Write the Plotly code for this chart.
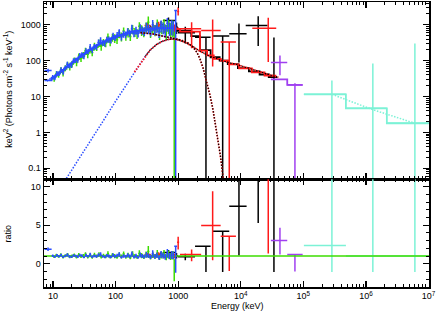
import numpy as np
import plotly.graph_objects as go

# ---------------- data ----------------
# NaI detector (blue): bin edges (keV), folded model per bin, data/model ratio, relative error
blue_edges = [7.3, 9.5, 10.3, 11.1, 12.0, 13.0, 14.0, 15.1, 16.3, 17.6, 19.0, 20.5, 22.1, 23.9, 25.8,
              27.8, 30.0, 32.4, 35.0, 37.8, 40.8, 44.0, 47.5, 51.3, 55.4, 59.8, 64.6, 69.7, 75.3, 81.3,
              87.8, 94.8, 102, 110, 119, 129, 139, 150, 162, 175, 189, 204, 220, 238, 257, 277, 299,
              323, 349, 377, 407, 440, 475, 513, 554, 598, 646, 698, 754, 814, 860]
blue_model = [28, 33, 36, 40, 45, 50, 55, 61, 68, 76,
              84, 93, 103, 114, 126, 139, 153, 168, 184, 201,
              219, 238, 258, 279, 300, 322, 344, 366, 389, 412,
              435, 458, 481, 503, 525, 547, 568, 589, 609, 628,
              646, 664, 681, 697, 712, 726, 739, 751, 762, 772,
              781, 789, 796, 801, 805, 808, 809, 808, 805, 800]
blue_ratio = [1.9, 1.05, 0.92, 1.1, 0.97, 1.12, 0.88, 1.03, 1.15, 0.95,
              0.9, 1.08, 1.0, 0.93, 1.12, 1.05, 0.85, 1.1, 0.98, 1.2,
              0.9, 1.04, 0.95, 1.15, 1.22, 0.97, 0.88, 1.06, 1.0, 0.91,
              1.13, 0.95, 1.08, 1.2, 0.86, 1.02, 0.94, 1.1, 0.98, 1.25,
              0.9, 1.05, 0.85, 1.15, 1.0, 0.92, 1.18, 1.05, 0.88, 1.3,
              0.95, 1.1, 0.82, 1.2, 1.05, 0.9, 1.35, 1.0, 1.15, 1.1]
blue_relerr = [0.12, 0.15, 0.14, 0.16, 0.15, 0.17, 0.16, 0.15, 0.18, 0.16,
               0.17, 0.15, 0.16, 0.18, 0.15, 0.17, 0.16, 0.19, 0.17, 0.2,
               0.18, 0.17, 0.19, 0.2, 0.22, 0.18, 0.2, 0.19, 0.21, 0.2,
               0.22, 0.19, 0.21, 0.24, 0.2, 0.22, 0.21, 0.24, 0.22, 0.27,
               0.23, 0.25, 0.24, 0.28, 0.26, 0.27, 0.3, 0.28, 0.3, 0.34,
               0.31, 0.33, 0.35, 0.37, 0.36, 0.4, 0.42, 0.4, 0.45, 0.45]
# last blue bin (error bar reaching below zero)
blue_last = dict(E=[912], lo=[865], hi=[960], F=[2490], Fhi=[2490], Flo=[1e-4],
                 R=[2.28], Rhi=[2.28], Rlo=[-1.16])

# NaI detector (green)
green_edges = [10.0, 10.9, 11.8, 12.8, 13.9, 15.1, 16.4, 17.8, 19.3, 21.0, 22.8, 24.8, 26.9, 29.2,
               31.7, 34.4, 37.4, 40.6, 44.1, 47.9, 52.0, 56.5, 61.4, 66.7, 72.4, 78.6, 85.4, 92.8,
               101, 110, 119, 129, 140, 152, 165, 179, 195, 212, 230, 250, 271, 294, 320, 347, 377,
               410, 445, 483, 525, 570, 619, 672, 730, 793, 850]
green_model = [35, 39, 43, 48, 53, 59, 66, 73, 81, 91,
               101, 112, 124, 137, 151, 167, 184, 201, 219, 238,
               258, 279, 302, 325, 349, 373, 398, 424, 449, 474,
               499, 523, 547, 570, 592, 613, 634, 654, 673, 691,
               707, 722, 736, 749, 760, 770, 779, 787, 793, 797,
               800, 801, 800, 797]
green_ratio = [0.9, 1.1, 0.95, 1.15, 0.85, 1.05, 1.2, 0.92, 1.0, 1.12,
               0.88, 1.18, 0.95, 1.05, 1.25, 0.9, 1.1, 0.84, 1.15, 1.0,
               1.22, 0.9, 1.08, 0.95, 1.3, 0.88, 1.12, 1.0, 0.85, 1.2,
               0.95, 1.28, 0.9, 1.1, 0.8, 1.25, 1.0, 0.88, 1.35, 1.05,
               0.9, 1.2, 1.6, 0.85, 1.15, 0.95, 1.3, 0.8, 1.1, 1.25,
               0.85, 1.2, 0.95, 1.1]
green_relerr = [0.18, 0.17, 0.19, 0.18, 0.2, 0.19, 0.18, 0.21, 0.2, 0.19,
                0.21, 0.2, 0.22, 0.21, 0.2, 0.23, 0.22, 0.21, 0.24, 0.22,
                0.23, 0.25, 0.22, 0.24, 0.26, 0.23, 0.25, 0.27, 0.24, 0.26,
                0.28, 0.25, 0.27, 0.3, 0.26, 0.29, 0.28, 0.31, 0.3, 0.33,
                0.3, 0.34, 0.45, 0.33, 0.36, 0.35, 0.38, 0.4, 0.38, 0.42,
                0.45, 0.43, 0.48, 0.5]
green_last = dict(E=[865], lo=[850], hi=[880], F=[621], Fhi=[621], Flo=[1e-4],
                  R=[0.56], Rhi=[0.56], Rlo=[-2.25])

# BGO detector (black)
black_E   = [360, 458, 534, 700, 940, 1300, 2780, 5140, 9360, 19000, 33900]
black_lo  = [310, 420, 500, 570, 900, 990, 1860, 3556, 6550, 12000, 33900]
black_hi  = [420, 500, 570, 900, 990, 1860, 3300, 6550, 12400, 26800, 33900]
black_F   = [760, 900, 1000, 1310, 850, 600, 445, 485, 560, 952, 442]
black_Fhi = [950, 1100, 1250, 1600, 1150, 880, 445, 485, 1080, 1726, 442]
black_Flo = [570, 700, 760, 1050, 550, 300, 1e-4, 1e-4, 89, 254, 1e-4]
black_R   = [0.95, 1.1, 1.25, 1.45, 1.05, 0.9, 2.28, 4.22, 7.45, 20, 11.6]
black_Rhi = [1.2, 1.35, 1.55, 1.8, 1.4, 1.3, 2.28, 4.22, 15, 40, 30]
black_Rlo = [0.7, 0.85, 0.95, 1.15, 0.7, 0.45, -1.08, -1.08, 1.08, 5.3, -1.08]
black_step_edges = [300, 380, 480, 600, 760, 990, 1620, 2230, 3300, 4600, 6200, 9000, 13500,
                    20000, 28000, 38000]
black_step_vals = [800, 810, 812, 806, 790, 680, 480, 195, 124, 100, 80, 62, 50, 41, 35]

# BGO detector (red)
red_E   = [322, 398, 488, 597, 727, 876, 1000, 1640, 3556, 6550, 27500]
red_lo  = [290, 360, 440, 540, 660, 800, 965, 1070, 2330, 4775, 15300]
red_hi  = [360, 440, 540, 660, 800, 960, 1035, 2330, 4775, 8370, 36900]
red_F   = [950, 845, 1015, 770, 925, 790, 2330, 770, 692, 330, 801]
red_Fhi = [1140, 1025, 1215, 960, 1135, 1020, 3070, 1180, 1400, 330, 1560]
red_Flo = [760, 665, 815, 580, 715, 560, 1807, 220, 69, 1e-4, 91]
red_R   = [1.2, 1.05, 1.25, 0.95, 1.15, 1.0, 2.8, 1.2, 4.96, 3.57, 20]
red_Rhi = [1.44, 1.27, 1.5, 1.18, 1.41, 1.29, 3.5, 1.85, 9.4, 3.57, 40]
red_Rlo = [0.96, 0.83, 1.0, 0.72, 0.89, 0.71, 1.85, 0.34, 0.47, -0.95, 1.34]
red_step_edges = [290, 360, 440, 540, 660, 800, 960, 1070, 2230, 2900, 3700, 4800, 6500, 9400,
                  15000, 24000, 37000]
red_step_vals = [790, 805, 812, 812, 805, 792, 760, 640, 190, 140, 112, 100, 79, 61, 47, 38]

# LAT low energy (purple)
purple_E   = [42300, 73400]
purple_lo  = [30300, 55300]
purple_hi  = [55300, 97500]
purple_F   = [88, 21]
purple_Fhi = [140, 23.5]
purple_Flo = [39, 1e-4]
purple_R   = [3.02, 1.2]
purple_Rhi = [4.66, 1.2]
purple_Rlo = [1.2, -1.0]
purple_step_edges = [30300, 55300, 97500]
purple_step_vals = [30, 21]

# LAT (cyan)
cyan_E   = [2.86e5, 1.29e6, 6.06e6]
cyan_lo  = [1.02e5, 4.79e5, 2.16e6]
cyan_hi  = [4.79e5, 2.16e6, 1.01e7]
cyan_F   = [11.5, 4.7, 1.8]
cyan_Fhi = [28, 83, 300]
cyan_Flo = [1e-4, 1e-4, 1e-4]
cyan_R   = [2.37, 1.0, 1.0]
cyan_Rhi = [30, 30, 30]
cyan_Rlo = [-1.08, -1.08, -1.08]
cyan_step_edges = [1.02e5, 4.79e5, 2.16e6, 1.01e7]
cyan_step_vals = [11.5, 4.7, 1.8]
cyan_comp_E = [2.86e5, 1.29e6, 6.06e6]
cyan_comp_F = [11.5, 4.3, 1.8]

# model components (dotted)
pl_E = [8, 16.6, 30, 60, 100, 150, 200, 300, 360, 450, 550, 700, 850, 1000, 1300, 1700, 2200,
        3000, 5000, 10000, 20000, 30000, 40000]
pl_F = [0.0075, 0.053, 0.26, 1.8, 7.4, 22, 48, 135, 200, 280, 340, 390, 400, 380, 320, 250, 185,
        140, 100, 72, 50, 40, 34]
cut_E = [8, 12, 20, 40, 60, 100, 150, 250, 400, 600, 800, 1069, 1400, 1742, 2000, 2228, 2500,
         2800, 3240, 3600, 3900, 4300, 4700, 5000, 5300, 5600]
cut_F = [27, 44, 88, 205, 315, 450, 540, 600, 550, 470, 420, 380, 320, 235, 168, 112, 62, 30,
         10.5, 4.3, 1.9, 0.68, 0.24, 0.105, 0.045, 0.019]

RATIO_REF = 1.0
X_MIN_KEV, X_MAX_KEV = 10 ** 0.856, 10 ** 7.008

x_tickvals = [10, 100, 1000, 1e4, 1e5, 1e6, 1e7]
x_ticktext = ['10', '100', '1000', '10<sup>4</sup>', '10<sup>5</sup>', '10<sup>6</sup>', '10<sup>7</sup>']
y_tickvals = [0.1, 1, 10, 100, 1000]
y_ticktext = ['0.1', '1', '10', '100', '1000']
r_tickvals = [0, 5, 10]

# ---------------- styling ----------------
BLACK = '#000000'
RED = '#ff1a1a'
GREEN = '#3cdc00'
BLUE = '#2b4dff'
PURPLE = '#a040f0'
CYAN = '#7cf2d6'
FONT = 'Liberation Sans, Arial, Helvetica, sans-serif'

fig = go.Figure()
A = lambda v: np.asarray(v, dtype=float)


def add_points(E, lo, hi, y, yhi, ylo, color, xa, ya):
    E, lo, hi, y, yhi, ylo = map(A, (E, lo, hi, y, yhi, ylo))
    fig.add_trace(go.Scatter(
        x=E, y=y, mode='markers', marker=dict(size=2, color=color, opacity=0),
        error_x=dict(type='data', symmetric=False, array=hi - E, arrayminus=E - lo,
                     color=color, thickness=1.5, width=0),
        error_y=dict(type='data', symmetric=False, array=yhi - y, arrayminus=y - ylo,
                     color=color, thickness=1.5, width=0),
        xaxis=xa, yaxis=ya, showlegend=False, hoverinfo='skip'))


def add_step(edges, vals, color, width=1.8):
    fig.add_trace(go.Scatter(
        x=list(edges), y=list(vals) + [vals[-1]], mode='lines',
        line=dict(color=color, width=width, shape='hv'),
        xaxis='x', yaxis='y', showlegend=False, hoverinfo='skip'))


def add_dotted(E, F, color, emin=0, emax=1e9, width=1.5):
    E, F = A(E), A(F)
    m = (E >= emin) & (E <= emax)
    fig.add_trace(go.Scatter(
        x=E[m], y=F[m], mode='lines',
        line=dict(color=color, width=width, dash='1.5px,1.5px'),
        xaxis='x', yaxis='y', showlegend=False, hoverinfo='skip'))


def nai(edges, model, ratio, rel):
    e = A(edges); lo, hi = e[:-1], e[1:]
    E = np.sqrt(lo * hi)
    m, r, q = A(model), A(ratio), A(rel)
    F = m * r
    return dict(E=E, lo=lo, hi=hi, F=F, Fhi=F * (1 + q), Flo=F * (1 - q),
                R=r, Rhi=r * (1 + q), Rlo=r * (1 - q))


blue = nai(blue_edges, blue_model, blue_ratio, blue_relerr)
green = nai(green_edges, green_model, green_ratio, green_relerr)

# ---------- top panel ----------
add_points(black_E, black_lo, black_hi, black_F, black_Fhi, black_Flo, BLACK, 'x', 'y')
add_step(black_step_edges, black_step_vals, BLACK)
add_points(red_E, red_lo, red_hi, red_F, red_Fhi, red_Flo, RED, 'x', 'y')
add_step(red_step_edges, red_step_vals, RED)
for d, col, edges, model in ((green, GREEN, green_edges, green_model),
                              (blue, BLUE, blue_edges, blue_model)):
    add_points(d['E'], d['lo'], d['hi'], d['F'], d['Fhi'], d['Flo'], col, 'x', 'y')
    add_step(edges, model, col)
add_points(green_last['E'], green_last['lo'], green_last['hi'], green_last['F'],
           green_last['Fhi'], green_last['Flo'], GREEN, 'x', 'y')
add_points(blue_last['E'], blue_last['lo'], blue_last['hi'], blue_last['F'],
           blue_last['Fhi'], blue_last['Flo'], BLUE, 'x', 'y')
add_points(purple_E, purple_lo, purple_hi, purple_F, purple_Fhi, purple_Flo, PURPLE, 'x', 'y')
add_step(purple_step_edges, purple_step_vals, PURPLE)
add_points(cyan_E, cyan_lo, cyan_hi, cyan_F, cyan_Fhi, cyan_Flo, CYAN, 'x', 'y')
add_step(cyan_step_edges, cyan_step_vals, CYAN)

add_dotted(pl_E, pl_F, BLUE, emax=1000)
add_dotted(cut_E, cut_F, BLUE, emax=1069)
add_dotted(pl_E, pl_F, RED, emin=200, emax=40000, width=1.8)
add_dotted(cut_E, cut_F, RED, emin=250, width=1.8)
add_dotted(pl_E, pl_F, BLACK, emin=300, emax=40000, width=1.1)
add_dotted(cut_E, cut_F, BLACK, emin=250, width=1.1)
add_dotted(cyan_comp_E, cyan_comp_F, CYAN)

# ---------- ratio panel ----------
add_points(black_E, black_lo, black_hi, black_R, black_Rhi, black_Rlo, BLACK, 'x2', 'y2')
add_points(red_E, red_lo, red_hi, red_R, red_Rhi, red_Rlo, RED, 'x2', 'y2')
add_points(purple_E, purple_lo, purple_hi, purple_R, purple_Rhi, purple_Rlo, PURPLE, 'x2', 'y2')
add_points(cyan_E, cyan_lo, cyan_hi, cyan_R, cyan_Rhi, cyan_Rlo, CYAN, 'x2', 'y2')
add_points(green['E'], green['lo'], green['hi'], green['R'], green['Rhi'], green['Rlo'], GREEN, 'x2', 'y2')
add_points(green_last['E'], green_last['lo'], green_last['hi'], green_last['R'],
           green_last['Rhi'], green_last['Rlo'], GREEN, 'x2', 'y2')
fig.add_trace(go.Scatter(x=[X_MIN_KEV, X_MAX_KEV], y=[RATIO_REF, RATIO_REF], mode='lines',
                         line=dict(color=GREEN, width=1.5), xaxis='x2', yaxis='y2',
                         showlegend=False, hoverinfo='skip'))
add_points(blue['E'], blue['lo'], blue['hi'], blue['R'], blue['Rhi'], blue['Rlo'], BLUE, 'x2', 'y2')
add_points(blue_last['E'], blue_last['lo'], blue_last['hi'], blue_last['R'],
           blue_last['Rhi'], blue_last['Rlo'], BLUE, 'x2', 'y2')

# ---------------- axes ----------------
x_minor = [k * 10.0 ** n for n in range(0, 7) for k in range(2, 10)]
y_minor = [k * 10.0 ** n for n in range(-2, 4) for k in range(2, 10)]
r_minor = list(range(-3, 12))

common = dict(showline=True, linecolor='black', linewidth=1.5, mirror='allticks',
              ticks='inside', ticklen=6, tickwidth=1.2, tickcolor='black',
              showgrid=False, zeroline=False, automargin=False,
              tickfont=dict(family=FONT, size=9, color='black'))
xr = [np.log10(X_MIN_KEV), np.log10(X_MAX_KEV)]
split = 0.3779

fig.update_layout(
    template='none',
    width=436, height=315,
    margin=dict(l=44, r=6.5, t=1.5, b=27.7, autoexpand=False),
    paper_bgcolor='white', plot_bgcolor='white',
    showlegend=False,
    xaxis=dict(type='log', range=xr, domain=[0, 1], anchor='y',
               tickmode='array', tickvals=x_tickvals, ticktext=x_ticktext, showticklabels=False,
               minor=dict(tickmode='array', tickvals=x_minor, ticks='inside', ticklen=3,
                          tickwidth=1, tickcolor='black'),
               **common),
    yaxis=dict(type='log', range=[-1.306, 3.633], domain=[split, 1], anchor='x',
               tickmode='array', tickvals=y_tickvals, ticktext=y_ticktext,
               minor=dict(tickmode='array', tickvals=y_minor, ticks='inside', ticklen=3,
                          tickwidth=1, tickcolor='black'),
               **common),
    xaxis2=dict(type='log', range=xr, domain=[0, 1], anchor='y2', matches='x',
                tickmode='array', tickvals=x_tickvals, ticktext=x_ticktext,
                minor=dict(tickmode='array', tickvals=x_minor, ticks='inside', ticklen=3,
                           tickwidth=1, tickcolor='black'),
                **common),
    yaxis2=dict(range=[-3.01, 10.96], domain=[0, split], anchor='x2',
                tickmode='array', tickvals=r_tickvals,
                minor=dict(tickmode='array', tickvals=r_minor, ticks='inside', ticklen=3,
                           tickwidth=1, tickcolor='black'),
                **common),
    annotations=[
        dict(text='keV<sup>2</sup> (Photons cm<sup>-2</sup> s<sup>-1</sup> keV<sup>-1</sup>)',
             xref='paper', yref='paper', x=-0.0935, y=0.692, textangle=-90,
             showarrow=False, xanchor='center', yanchor='middle',
             font=dict(family=FONT, size=9, color='black')),
        dict(text='ratio', xref='paper', yref='paper', x=-0.0935, y=0.188, textangle=-90,
             showarrow=False, xanchor='center', yanchor='middle',
             font=dict(family=FONT, size=9, color='black')),
        dict(text='Energy (keV)', xref='paper', yref='paper', x=0.5026, y=-0.067,
             showarrow=False, xanchor='center', yanchor='middle',
             font=dict(family=FONT, size=9, color='black')),
    ],
)

fig.write_html('out.html',
               config={'displayModeBar': False, 'staticPlot': True},
               post_script="document.body.style.margin='0';document.body.style.overflow='hidden';")
